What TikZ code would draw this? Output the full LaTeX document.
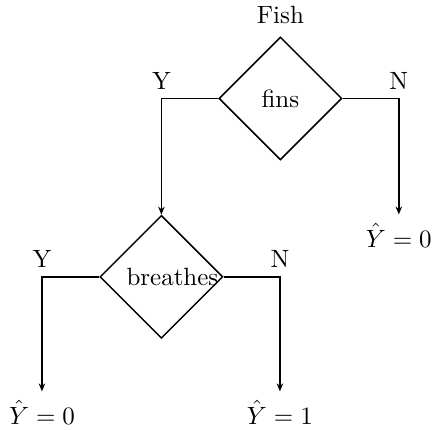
\documentclass[tikz,border=0pt]{standalone}
\usetikzlibrary{positioning, arrows.meta, shapes.geometric}
\begin{document}
\begin{tikzpicture}[>={Stealth[length=3.2pt, width=2.6pt]}, semithick,
  test/.style={draw, diamond, minimum width=1.729cm, minimum height=1.729cm,
               inner sep=0pt},
  leaf/.style={inner sep=3.33pt}]
  \useasboundingbox (0,0) rectangle (6.104,-6.034);
  % decision nodes
  \node[test, label=center:fins] (fins) at (3.944,-1.385) {};
  \node[above=0.05cm of fins] (root) {Fish};
  \node[test, label={[xshift=0.155cm]center:breathes}] (breathes) at (2.270,-3.894) {};
  % leaves
  \node[leaf] (leafN) at (5.609,-3.311) {$\hat{Y}=0$};
  \node[leaf] (leafYY) at (0.590,-5.799) {$\hat{Y}=0$};
  \node[leaf] (leafYN) at (3.937,-5.799) {$\hat{Y}=1$};
  % branch labels
  \node[above] (y1) at (fins.west -| breathes.north) {Y};
  \node[above] (n1) at (fins.east -| leafN.north) {N};
  \node[above] (y2) at (breathes.west -| leafYY.north) {Y};
  \node[above] (n2) at (breathes.east -| leafYN.north) {N};
  % edges
  \draw[->] (fins.west) -| (breathes.north);
  \draw[->] (fins.east) -| (leafN.north);
  \draw[->] (breathes.west) -| (leafYY.north);
  \draw[->] (breathes.east) -| (leafYN.north);
\end{tikzpicture}
\end{document}
